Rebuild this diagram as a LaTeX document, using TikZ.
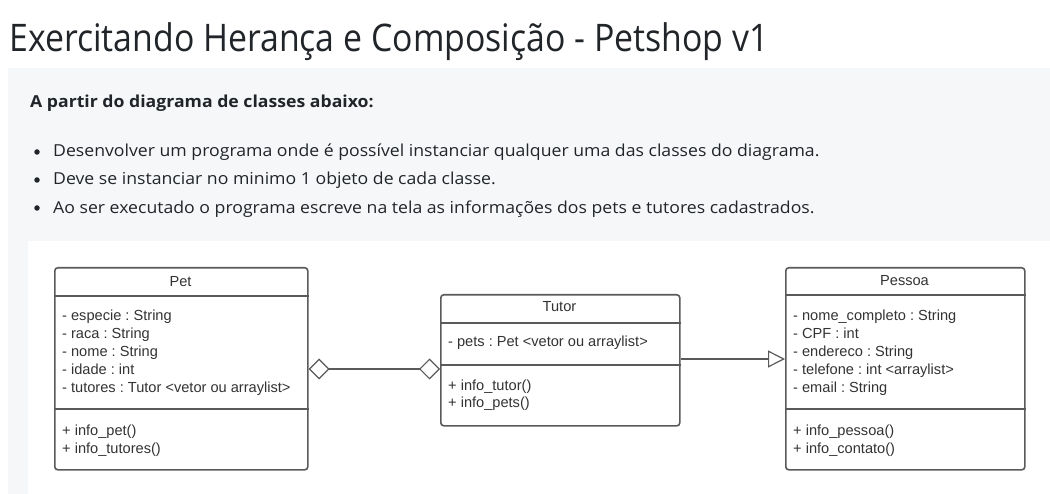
\documentclass[tikz,border=0pt]{standalone}
\usepackage{fontspec}
\setmainfont{Open Sans}[FakeStretch=1.07]
\newfontfamily\titlefont{Open Sans}[FakeStretch=0.89]
\newfontfamily\umlfont{Liberation Sans}
\usetikzlibrary{arrows.meta}
\definecolor{ink}{HTML}{212529}
\definecolor{panel}{HTML}{F6F7F9}
\definecolor{umlline}{HTML}{5A5A5A}
\definecolor{umltext}{HTML}{333333}
\tikzset{
  umlbox/.style={draw=umlline, line width=1.6pt, rounded corners=3pt, inner sep=0pt, minimum width=#1},
  umlsep/.style={draw=umlline, line width=1.6pt},
  umltxt/.style={font=\umlfont\fontsize{14.6}{18}\selectfont, text=umltext, inner sep=0pt, anchor=base west},
  umlhead/.style={font=\umlfont\fontsize{14.6}{18}\selectfont, text=umltext, inner sep=0pt, anchor=base},
  bodytxt/.style={font=\fontsize{16.5}{20}\selectfont, text=ink, inner sep=0pt, anchor=base west},
  bulletdot/.style={circle, fill=ink, inner sep=0pt, minimum size=5.5pt},
  aggr/.style={draw=umlline, line width=1.2pt, {Diamond[open, length=21pt, width=21pt]}-{Diamond[open, length=21pt, width=21pt]}},
  inherit/.style={draw=umlline, line width=1.2pt, -{Triangle[open, length=17pt, width=17pt]}}
}
\frenchspacing
\begin{document}
\begin{tikzpicture}[x=1pt, y=-1pt]
\useasboundingbox (0,0) rectangle (1050,494);
\fill[white] (0,0) rectangle (1050,494);
\fill[panel] (8,68) rectangle (1050,494);
\fill[white] (28,241) rectangle (1050,494);

\node[font=\titlefont\fontsize{38}{44}\selectfont, text=ink, inner sep=0pt, anchor=base west] (title) at (9,52) {Exercitando Herança e Composição - Petshop v1};
\node[bodytxt, font=\bfseries\fontsize{16.5}{20}\selectfont] (lead) at (30,108) {A partir do diagrama de classes abaixo:};
\node[bulletdot] (b1) at (37,152) {};
\node[bulletdot] (b2) at (37,180) {};
\node[bulletdot] (b3) at (37,208) {};
\node[bodytxt] (t1) at (53,157) {Desenvolver um programa onde é possível instanciar qualquer uma das classes do diagrama.};
\node[bodytxt] (t2) at (53,185) {Deve se instanciar no minimo 1 objeto de cada classe.};
\node[bodytxt] (t3) at (53,213.5) {Ao ser executado o programa escreve na tela as informações dos pets e tutores cadastrados.};

% Pet
\node[umlbox=253pt, minimum height=202pt, anchor=north west] (pet) at (54,267) {};
\draw[umlsep] (pet.west |- 0,296) -- (pet.east |- 0,296);
\draw[umlsep] (pet.west |- 0,409) -- (pet.east |- 0,409);
\node[umlhead] (petname) at (180.5,287) {Pet};
\foreach \t [count=\i] in {- especie : String, - raca : String, - nome : String, - idade : int, - tutores : Tutor <vetor ou arraylist>}
  \node[umltxt] (petattr\i) at (62,320.5+17.9*\i-17.9) {\t};
\foreach \t [count=\i] in {+ info\_pet(), + info\_tutores()}
  \node[umltxt] (petop\i) at (62,435.5+17.7*\i-17.7) {\t};

% Tutor
\node[umlbox=239pt, minimum height=131pt, anchor=north west] (tutor) at (440,294) {};
\draw[umlsep] (tutor.west |- 0,323) -- (tutor.east |- 0,323);
\draw[umlsep] (tutor.west |- 0,365) -- (tutor.east |- 0,365);
\node[umlhead] (tutorname) at (559.5,312) {Tutor};
\node[umltxt] (tutorattr1) at (448,347) {- pets : Pet <vetor ou arraylist>};
\foreach \t [count=\i] in {+ info\_tutor(), + info\_pets()}
  \node[umltxt] (tutorop\i) at (448,390+17.7*\i-17.7) {\t};

% Pessoa
\node[umlbox=239pt, minimum height=202pt, anchor=north west] (pessoa) at (785,267) {};
\draw[umlsep] (pessoa.west |- 0,295) -- (pessoa.east |- 0,295);
\draw[umlsep] (pessoa.west |- 0,409) -- (pessoa.east |- 0,409);
\node[umlhead] (pessoaname) at (904.5,286) {Pessoa};
\foreach \t [count=\i] in {- nome\_completo : String, - CPF : int, - endereco : String, - telefone : int <arraylist>, - email : String}
  \node[umltxt] (pessoaattr\i) at (793,320.5+17.9*\i-17.9) {\t};
\foreach \t [count=\i] in {+ info\_pessoa(), + info\_contato()}
  \node[umltxt] (pessoaop\i) at (793,435.5+17.7*\i-17.7) {\t};

% connectors
\coordinate (aggrL) at (pet.east |- 0,369);
\coordinate (aggrR) at (tutor.west |- 0,369);
\draw[aggr] (aggrL) -- (aggrR);
\coordinate (inhL) at (tutor.east |- 0,359);
\coordinate (inhR) at (pessoa.west |- 0,359);
\draw[inherit] (inhL) -- (inhR);
\end{tikzpicture}
\end{document}
